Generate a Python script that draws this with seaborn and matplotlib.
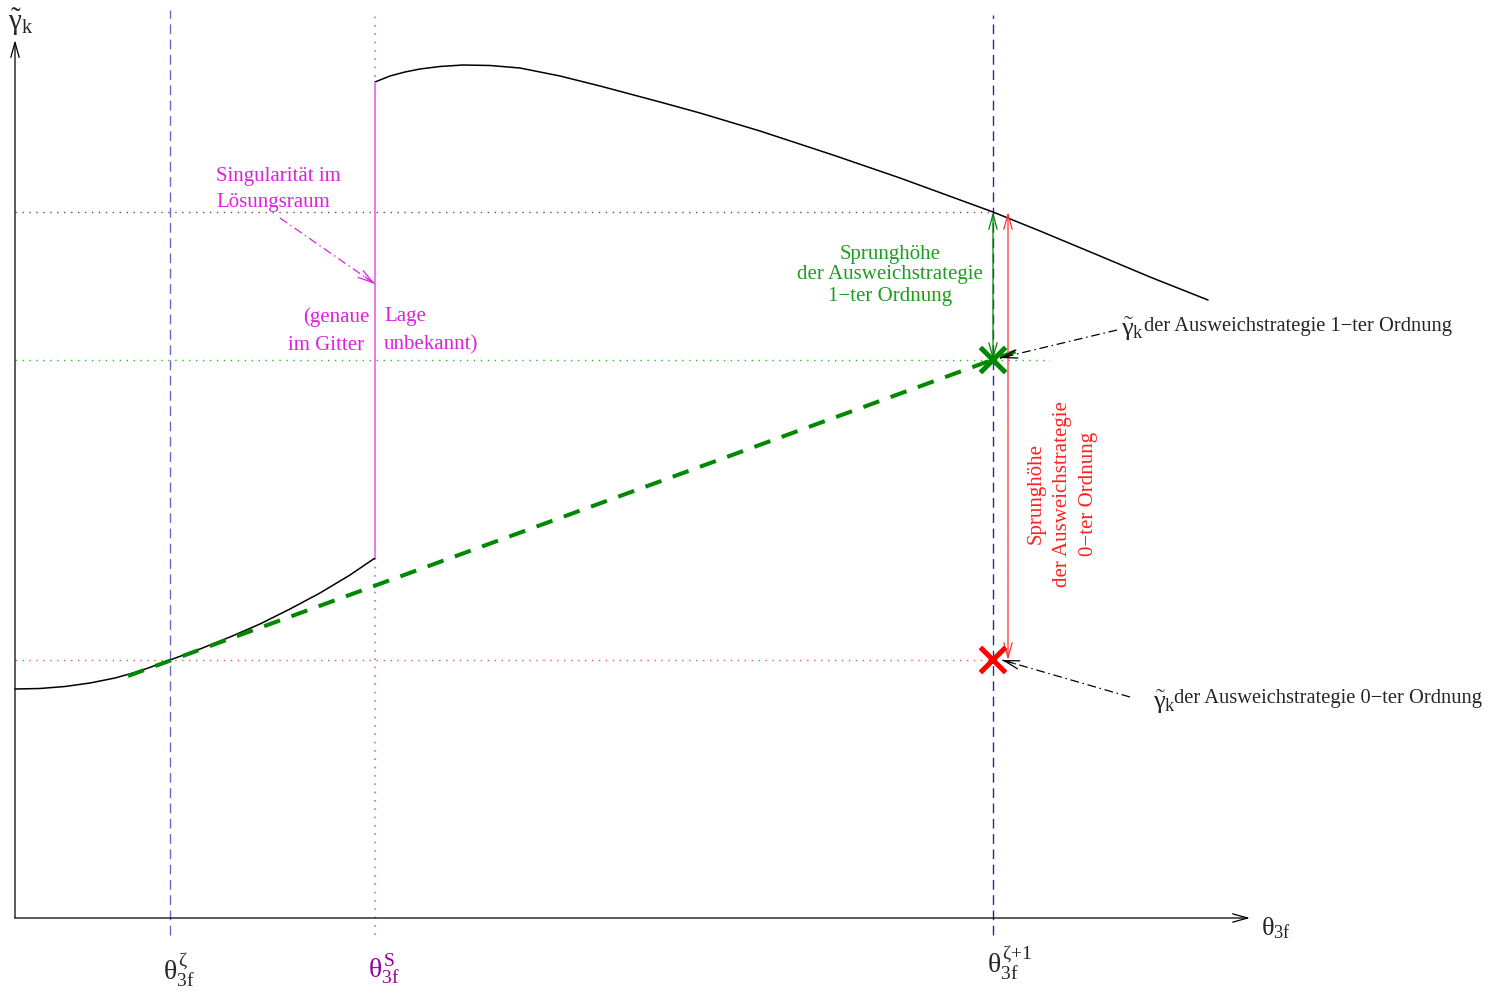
import numpy as np
import pandas as pd
import matplotlib
matplotlib.use("Agg")
import matplotlib.pyplot as plt
import seaborn as sns

# Solution curve gamma_k(theta_3f): branch left of the singularity
left_theta = [0, 25, 50, 75, 100, 125, 155, 185, 215, 245, 275, 305, 335, 360]
left_gamma = [229, 229.5, 231.5, 235, 240, 247, 258, 269, 281, 294, 309, 325, 343, 360]

# Branch right of the singularity
right_theta = [360, 375, 390, 405, 425, 448, 475, 505, 545, 585, 645, 685, 745,
               818, 885, 978, 1025, 1085, 1135, 1193]
right_gamma = [836, 842, 846, 849, 851.5, 853, 852.5, 850, 842, 832, 816, 805, 787,
               763, 740, 706, 687, 662, 641, 618]

# Grid positions on the theta axis
theta_zeta = 155
theta_sing = 360
theta_zeta1 = 978

# Characteristic gamma levels
gamma_true = 706      # curve value at theta^(zeta+1)
gamma_first = 558     # first-order fallback estimate
gamma_zero = 258      # zeroth-order fallback estimate
gamma_sing_low = 360  # lower end of the jump
gamma_sing_high = 836 # upper end of the jump

# First-order extrapolation line (end points)
extrap_theta = [113, 1007]
extrap_gamma = [242, 569]

sns.set_theme(style="white")
plt.rcParams["font.family"] = ["Liberation Serif", "DejaVu Serif"]
plt.rcParams["mathtext.fontset"] = "custom"
plt.rcParams["mathtext.rm"] = "Liberation Serif"
plt.rcParams["mathtext.it"] = "Liberation Serif"
plt.rcParams["mathtext.bf"] = "Liberation Serif:bold"

fig = plt.figure(figsize=(14.88, 10), dpi=100)
ax = fig.add_axes([0, 0, 1, 1])
ax.set_xlim(-15, 1473)
ax.set_ylim(-82, 918)
ax.axis("off")

FS = 15
FS_NOTE = 14.8
GREEN_TXT = "#1e9e1e"
RED_TXT = "#ff2020"
MAG_TXT = "#dd22dd"

# ---- guide lines -------------------------------------------------------
ax.plot([theta_zeta, theta_zeta], [-17, 908], color="#6a6acc", lw=1.0, dashes=(7, 4))
ax.plot([theta_zeta1, theta_zeta1], [-17, 903], color="#2a2a8a", lw=1.0, dashes=(7, 4))
ax.plot([theta_sing, theta_sing], [-17, 908], color="#cc66cc", lw=1.2, dashes=(1, 4))
ax.plot([0, theta_zeta1], [gamma_true, gamma_true], color="#555555", lw=1.0, dashes=(1, 4))
ax.plot([0, 1035], [gamma_first, gamma_first], color="#22bb22", lw=1.0, dashes=(1, 4))
ax.plot([0, theta_zeta1], [gamma_zero, gamma_zero], color="#ee5555", lw=1.0, dashes=(1, 4))

# ---- coordinate axes with open arrow heads ------------------------------
axis_arrow = dict(arrowstyle="->,head_length=0.9,head_width=0.25", color="black",
                  lw=0.9, shrinkA=0, shrinkB=0)
ax.annotate("", xy=(0, 878), xytext=(0, 0), arrowprops=axis_arrow)
ax.annotate("", xy=(1235, 0), xytext=(0, 0), arrowprops=axis_arrow)

# ---- solution curve ----------------------------------------------------
curve_left = pd.DataFrame({"theta": left_theta, "gamma": left_gamma})
curve_right = pd.DataFrame({"theta": right_theta, "gamma": right_gamma})
sns.lineplot(data=curve_left, x="theta", y="gamma", ax=ax, color="black", lw=1.1,
             sort=False, estimator=None)
sns.lineplot(data=curve_right, x="theta", y="gamma", ax=ax, color="black", lw=1.1,
             sort=False, estimator=None)

# singularity jump
ax.plot([theta_sing, theta_sing], [gamma_sing_low, gamma_sing_high],
        color="#ee77ee", lw=1.4, solid_capstyle="butt")

# first-order extrapolation
extrap = pd.DataFrame({"theta": extrap_theta, "gamma": extrap_gamma})
sns.lineplot(data=extrap, x="theta", y="gamma", ax=ax, color="#008800", lw=2.9,
             dashes=False, estimator=None)
ax.lines[-1].set_dashes((4.2, 3.0))
ax.lines[-1].set_dash_capstyle("butt")

# fallback estimates
marks = pd.DataFrame({"theta": [theta_zeta1, theta_zeta1],
                      "gamma": [gamma_first, gamma_zero],
                      "kind": ["1", "0"]})
sns.scatterplot(data=marks, x="theta", y="gamma", hue="kind",
                palette={"1": "#008800", "0": "#ff0000"}, marker="x", s=330,
                linewidth=3.6, ax=ax, legend=False, zorder=5)

# jump height arrows
jump_arrow = dict(arrowstyle="<->,head_length=0.9,head_width=0.25", lw=0.9,
                  shrinkA=0, shrinkB=0)
ax.annotate("", xy=(theta_zeta1, gamma_first), xytext=(theta_zeta1, gamma_true),
            arrowprops=dict(jump_arrow, color="#008800"))
ax.annotate("", xy=(993, gamma_zero), xytext=(993, gamma_true),
            arrowprops=dict(jump_arrow, color="#ff3030"))


def pointer(start, tip, color):
    """Dash-dotted leader line with an open solid arrow head at the tip."""
    ax.plot([start[0], tip[0]], [start[1], tip[1]], color=color, lw=0.9,
            dashes=(7, 3, 1.2, 3))
    v = np.array(tip, float) - np.array(start, float)
    v = v / np.hypot(*v)
    back = np.array(tip) - v * 12
    ax.annotate("", xy=tip, xytext=tuple(back),
                arrowprops=dict(arrowstyle="->,head_length=0.9,head_width=0.25",
                                color=color, lw=0.9, shrinkA=0, shrinkB=0))


pointer((265, 700), (360, 634), MAG_TXT)
pointer((1102, 588), (985, 560), "black")
pointer((1115, 221), (987, 258), "black")

# ---- texts -------------------------------------------------------------
ax.text(201, 742, "Singularität im", color=MAG_TXT, fontsize=FS, ha="left", va="center")
ax.text(201, 715, "Lösungsraum", color=MAG_TXT, fontsize=FS, ha="left", va="center")
ax.text(354, 601, "(genaue", color=MAG_TXT, fontsize=FS, ha="right", va="center")
ax.text(349, 573, "im Gitter", color=MAG_TXT, fontsize=FS, ha="right", va="center")
ax.text(369, 601, "Lage", color=MAG_TXT, fontsize=FS, ha="left", va="center")
ax.text(369, 573, "unbekannt)", color=MAG_TXT, fontsize=FS, ha="left", va="center")

green_lines = ["Sprunghöhe", "der Ausweichstrategie", "1\u2212ter Ordnung"]
for txt, yy in zip(green_lines, [664, 643, 621]):
    ax.text(875, yy, txt, color=GREEN_TXT, fontsize=FS, ha="center", va="center")

red_lines = ["Sprunghöhe", "der Ausweichstrategie", "0\u2212ter Ordnung"]
for txt, xx in zip(red_lines, [1021, 1047, 1073]):
    ax.text(xx, 424, txt, color=RED_TXT, fontsize=FS, ha="center", va="center",
            rotation=90)

# pointer labels: gamma symbol drawn a little larger than the running text
ax.text(1106, 589, r"$\tilde{\gamma}_{k}$", fontsize=19, ha="left", va="center")
ax.text(1129, 592, "der Ausweichstrategie 1\u2212ter Ordnung", fontsize=FS_NOTE,
        ha="left", va="center")
ax.text(1138, 216, r"$\tilde{\gamma}_{k}$", fontsize=19, ha="left", va="center")
ax.text(1159, 219, "der Ausweichstrategie 0\u2212ter Ordnung", fontsize=FS_NOTE,
        ha="left", va="center")

# axis labels and grid tick labels
ax.text(6, 896, r"$\tilde{\gamma}_{k}$", fontsize=21, ha="center", va="center")
ax.text(1261, -10, r"$\theta_{3f}$", fontsize=19, ha="center", va="center")
ax.text(164, -52, r"$\theta_{3f}^{\zeta}$", fontsize=20, ha="center", va="center")
ax.text(369, -52, r"$\theta_{3f}^{S}$", fontsize=20, ha="center", va="center",
        color="#990099")
ax.text(994, -45, r"$\theta_{3f}^{\zeta{+}1}$", fontsize=20, ha="center", va="center")

fig.savefig("out.png", dpi=100, facecolor="white")
